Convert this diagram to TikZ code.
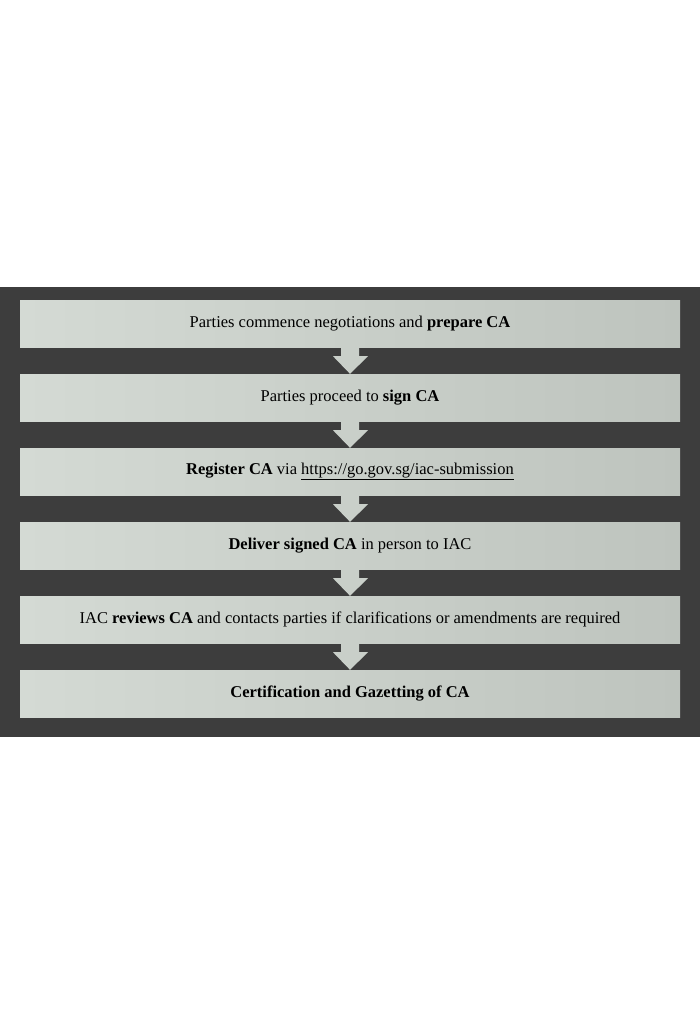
\documentclass[tikz,border=0pt]{standalone}
\usepackage{fontspec}
\setmainfont{Liberation Serif}
\usetikzlibrary{positioning,calc}
\definecolor{panelgray}{RGB}{61,61,61}
\definecolor{boxlight}{RGB}{212,218,212}
\definecolor{boxdark}{RGB}{190,196,190}
\tikzset
{
    stepbox/.style={rectangle, minimum width=660pt, minimum height=47pt, align=center, inner sep=0pt,
        left color=boxlight, right color=boxdark, font=\fontsize{16.5}{20}\selectfont},
    flowarrow/.style={fill=boxlight!95!black}
}
\begin{document}
\begin{tikzpicture}[x=1pt,y=-1pt]
		\useasboundingbox (0,0) rectangle (700,1024);
		\fill[white] (0,0) rectangle (700,1024);
		\fill[panelgray] (0,287) rectangle (700,737);
		\node (s1)	[stepbox]	at (350,323.5)	{Parties commence negotiations and \textbf{prepare CA}};
		\node (s2)	[stepbox]	at (350,397.5)	{Parties proceed to \textbf{sign CA}};
		\node (s3)	[stepbox]	at (350,471.5)	{\textbf{Register CA} via \underline{https://go.gov.sg/iac-submission}};
		\node (s4)	[stepbox]	at (350,545.5)	{\textbf{Deliver signed CA} in person to IAC};
		\node (s5)	[stepbox]	at (350,619.5)	{IAC \textbf{reviews CA} and contacts parties if clarifications or amendments are required};
		\node (s6)	[stepbox]	at (350,693.5)	{\textbf{Certification and Gazetting of CA}};
		% block arrows between the steps
		\foreach \a/\b in {s1/s2,s2/s3,s3/s4,s4/s5,s5/s6}
		{
			\fill[flowarrow] ($(\a.south)+(-9,0)$) -- ++(0,9) -- ++(-8,0) -- ($(\b.north)$) -- ($(\a.south)+(18,9)$) -- ++(-9,0) -- ($(\a.south)+(9,0)$) -- cycle;
		}
	\end{tikzpicture}
\end{document}
